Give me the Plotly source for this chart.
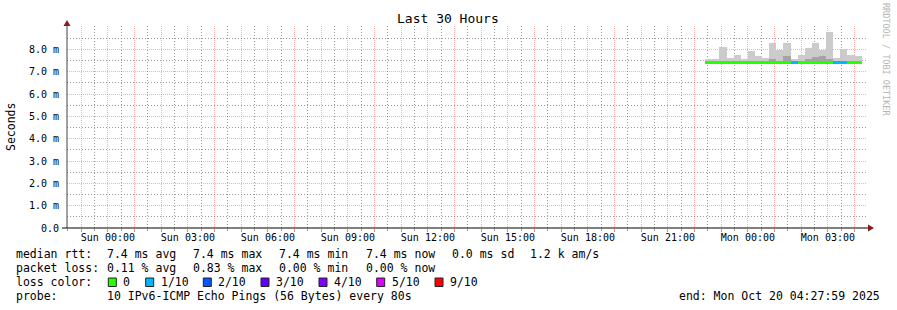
import plotly.graph_objects as go
from datetime import datetime, timedelta

# ---------------- data ----------------
step_start = ["2025-10-19 22:24", "2025-10-19 22:40", "2025-10-19 22:56", "2025-10-19 23:12",
              "2025-10-19 23:28", "2025-10-19 23:44", "2025-10-20 00:00", "2025-10-20 00:16",
              "2025-10-20 00:32", "2025-10-20 00:48", "2025-10-20 01:04", "2025-10-20 01:20",
              "2025-10-20 01:36", "2025-10-20 01:52", "2025-10-20 02:08", "2025-10-20 02:24",
              "2025-10-20 02:40", "2025-10-20 02:56", "2025-10-20 03:12", "2025-10-20 03:28",
              "2025-10-20 03:44", "2025-10-20 04:00"]
step_minutes = 16
smoke_max = [7.55, 7.58, 8.13, 7.60, 7.73, 7.55, 7.91, 7.69, 7.60, 8.31, 7.96, 8.27,
             7.55, 7.73, 8.05, 8.27, 7.96, 8.76, 7.62, 8.00, 7.73, 7.69]
smoke_mid = [7.46, 7.46, 7.50, 7.46, 7.47, 7.46, 7.48, 7.47, 7.46, 7.56, 7.50, 7.72,
             7.46, 7.48, 7.55, 7.66, 7.72, 7.58, 7.46, 7.50, 7.48, 7.48]
smoke_min = [7.40, 7.40, 7.38, 7.40, 7.40, 7.37, 7.33, 7.33, 7.38, 7.38, 7.33, 7.38,
             7.33, 7.40, 7.33, 7.40, 7.40, 7.40, 7.33, 7.34, 7.40, 7.40]
median_rtt = [7.43] * 22
loss_tenths = [0, 0, 0, 0, 0, 0, 0, 0, 0, 0, 0, 0, 1, 0, 0, 0, 0, 0, 1, 1, 0, 0]

loss_labels = ["0", "1/10", "2/10", "3/10", "4/10", "5/10", "9/10"]
loss_colors = ["#26ff00", "#00b8ff", "#0059ff", "#5e00ff", "#7e00ff", "#dd00ff", "#ff0000"]
loss_level_color = {0: "#26ff00", 1: "#00b8ff", 2: "#0059ff", 3: "#5e00ff",
                    4: "#7e00ff", 5: "#dd00ff", 9: "#ff0000"}

tick_label_times = ["2025-10-19 00:00", "2025-10-19 03:00", "2025-10-19 06:00", "2025-10-19 09:00",
                    "2025-10-19 12:00", "2025-10-19 15:00", "2025-10-19 18:00", "2025-10-19 21:00",
                    "2025-10-20 00:00", "2025-10-20 03:00"]
tick_labels = ["Sun 00:00", "Sun 03:00", "Sun 06:00", "Sun 09:00", "Sun 12:00", "Sun 15:00",
               "Sun 18:00", "Sun 21:00", "Mon 00:00", "Mon 03:00"]
y_tick_vals = [0, 1, 2, 3, 4, 5, 6, 7, 8]
y_tick_text = ["0.0", "1.0 m", "2.0 m", "3.0 m", "4.0 m", "5.0 m", "6.0 m", "7.0 m", "8.0 m"]

range_start = "2025-10-18 22:27:59"
range_end = "2025-10-20 04:27:59"

# ---------------- layout helpers ----------------
W, H = 897, 310
L, R, T, B = 67, 30, 26, 82
PW, PH = W - L - R, H - T - B
def px(x):
    return (x - L) / PW
def py(y):
    return (H - B - y) / PH

MONO = "DejaVu Sans Mono"
step_ms = step_minutes * 60 * 1000
fmt = "%Y-%m-%d %H:%M"
centers = [(datetime.strptime(s, fmt) + timedelta(minutes=step_minutes / 2)).strftime("%Y-%m-%d %H:%M:%S")
           for s in step_start]

fig = go.Figure()
fig.add_trace(go.Bar(x=centers, y=[a - b for a, b in zip(smoke_max, smoke_min)], base=smoke_min,
                     width=[step_ms] * len(centers), marker=dict(color="#cbcbcb", line=dict(width=0)),
                     showlegend=False, hoverinfo="skip"))
fig.add_trace(go.Bar(x=centers, y=[a - b for a, b in zip(smoke_mid, smoke_min)], base=smoke_min,
                     width=[step_ms] * len(centers), marker=dict(color="#a4a4a4", line=dict(width=0)),
                     showlegend=False, hoverinfo="skip"))
fig.add_trace(go.Bar(x=centers, y=[0.13] * len(centers), base=[m - 0.065 for m in median_rtt],
                     width=[step_ms] * len(centers),
                     marker=dict(color=[loss_level_color[l] for l in loss_tenths], line=dict(width=0)),
                     showlegend=False, hoverinfo="skip"))

# hourly ticks (labels every 3 hours)
t0 = datetime.strptime("2025-10-18 23:00", fmt)
hour_vals, hour_text = [], []
lab = dict(zip(tick_label_times, tick_labels))
t = t0
while t <= datetime.strptime("2025-10-20 04:00", fmt):
    k = t.strftime(fmt)
    hour_vals.append(k)
    hour_text.append(lab.get(k, ""))
    t += timedelta(hours=1)

RED_GRID = "rgba(255,0,0,0.33)"
GRAY_GRID = "rgba(110,110,110,0.7)"
DOTS = "1px,1px"
GDOTS = "1px,2px"

fig.update_layout(
    width=W, height=H,
    margin=dict(l=L, r=R, t=T, b=B),
    paper_bgcolor="white", plot_bgcolor="white",
    barmode="overlay", bargap=0,
    showlegend=False,
    font=dict(family=MONO, size=10, color="black"),
    xaxis=dict(type="date", range=[range_start, range_end],
               tickmode="array", tickvals=hour_vals, ticktext=hour_text,
               showgrid=True, gridcolor=RED_GRID, griddash=DOTS, gridwidth=1,
               ticks="outside", ticklen=3, tickcolor="rgba(255,0,0,0.5)", ticklabelstandoff=-3,
               tickfont=dict(family=MONO, size=10, color="black"),
               minor=dict(tick0="2025-10-19 00:30", dtick=3600000, showgrid=True,
                          gridcolor=GRAY_GRID, griddash=GDOTS, gridwidth=1,
                          ticks="outside", ticklen=2, tickcolor=GRAY_GRID),
               showline=False, zeroline=False, fixedrange=True),
    yaxis=dict(range=[0, 9.05], tickmode="array", tickvals=y_tick_vals, ticktext=y_tick_text,
               showgrid=True, gridcolor=RED_GRID, griddash=DOTS, gridwidth=1,
               minor=dict(tick0=0.5, dtick=1, showgrid=True, gridcolor=GRAY_GRID,
                          griddash=GDOTS, gridwidth=1, ticks=""),
               ticks="", ticklabelstandoff=7, tickfont=dict(family=MONO, size=10, color="black"),
               showline=False, zeroline=False, fixedrange=True),
)

shapes = []
shapes.append(dict(type="line", xref="paper", yref="paper", x0=px(67), x1=px(67), y0=py(228), y1=py(24),
                   line=dict(color="#444444", width=1), layer="above"))
shapes.append(dict(type="line", xref="paper", yref="paper", x0=px(62), x1=px(869), y0=py(228), y1=py(228),
                   line=dict(color="black", width=1), layer="above"))
ARROW = "#8b1a1a"
shapes.append(dict(type="path", xref="paper", yref="paper",
                   path=f"M {px(63.5)} {py(26)} L {px(70.5)} {py(26)} L {px(67)} {py(20)} Z",
                   fillcolor=ARROW, line=dict(color=ARROW, width=0), layer="above"))
shapes.append(dict(type="path", xref="paper", yref="paper",
                   path=f"M {px(868)} {py(224.5)} L {px(868)} {py(231.5)} L {px(874)} {py(228)} Z",
                   fillcolor=ARROW, line=dict(color=ARROW, width=0), layer="above"))

annotations = []
def text(x, y, s, size=11.5, color="black", anchor="left"):
    annotations.append(dict(xref="paper", yref="paper", x=px(x), y=py(y), text=s, showarrow=False,
                            xanchor=anchor, yanchor="middle", font=dict(family=MONO, size=size, color=color)))

text(448, 19, "Last 30 Hours", size=13, anchor="center")
annotations.append(dict(xref="paper", yref="paper", x=px(11), y=py(127), text="Seconds", showarrow=False,
                        textangle=-90, xanchor="center", yanchor="middle",
                        font=dict(family=MONO, size=11.5, color="black")))
annotations.append(dict(xref="paper", yref="paper", x=px(886), y=py(59), text="RRDTOOL / TOBI OETIKER",
                        showarrow=False, textangle=90, xanchor="center", yanchor="middle",
                        font=dict(family=MONO, size=8.5, color="#b4b4b4")))

DX = -2  # annotation padding compensation
cols = [107.3, 193.3, 279.3, 365.7, 451.7, 530]
text(16 + DX, 254.3, "median rtt:")
for x, s in zip(cols, ["7.4 ms avg", "7.4 ms max", "7.4 ms min", "7.4 ms now", "0.0 ms sd", "1.2 k am/s"]):
    text(x + DX, 254.3, s)
text(16 + DX, 268.3, "packet loss:")
for x, s in zip(cols, ["0.11 % avg", "0.83 % max", "0.00 % min", "0.00 % now"]):
    text(x + DX, 268.3, s)
text(16 + DX, 282.3, "loss color:")
box_x = [108.3, 145.7, 203.3, 261.0, 319.0, 376.7, 435.0]
for bx, lbl, col in zip(box_x, loss_labels, loss_colors):
    shapes.append(dict(type="rect", xref="paper", yref="paper", x0=px(bx), x1=px(bx + 8),
                       y0=py(286.5), y1=py(278), fillcolor=col, line=dict(color="#222222", width=1)))
    text(bx + 15 + DX, 282.3, lbl)
text(16 + DX, 296.3, "probe:")
text(107.3 + DX, 296.3, "10 IPv6-ICMP Echo Pings (56 Bytes) every 80s")
text(880.5 - DX, 296.3, "end: Mon Oct 20 04:27:59 2025", anchor="right")

fig.update_layout(shapes=shapes, annotations=annotations)
fig.write_html("out.html")
